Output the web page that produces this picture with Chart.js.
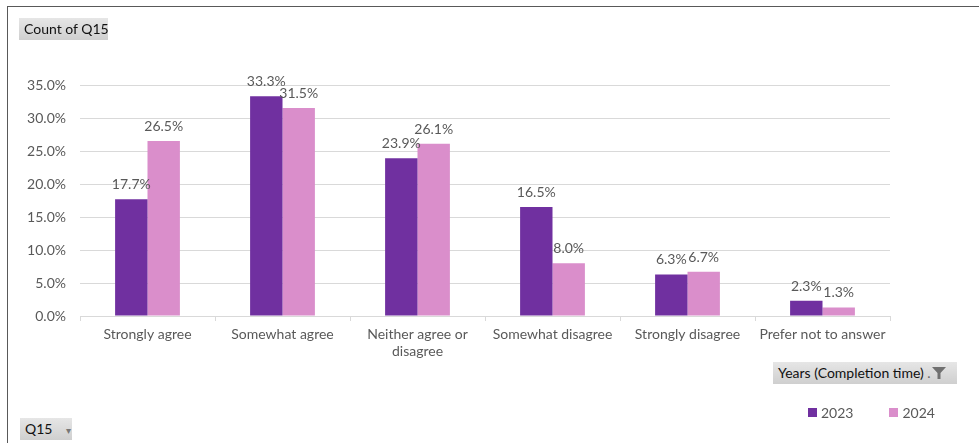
<!DOCTYPE html>
<html>
<head>
<meta charset="utf-8">
<script src="https://cdn.jsdelivr.net/npm/chart.js@4.4.1/dist/chart.umd.min.js"></script>
<style>
  html, body { margin: 0; padding: 0; background: #fff; }
  #wrap { position: relative; width: 979px; height: 443px; overflow: hidden; font-family: Lato, "Open Sans", sans-serif; }
  #frame { position: absolute; left: 7px; top: 6px; right: -2px; bottom: -2px; border-left: 1.5px solid #595959; border-top: 1.5px solid #595959; }
  #c { position: absolute; left: 0; top: 0; }
  .btn { position: absolute; height: 22px; line-height: 22px; font-size: 14px; color: #111;
         background: linear-gradient(#e6e6e6, #cfcfcf); padding: 0 5px; box-sizing: border-box; white-space: nowrap; }
  .btn .dd { color: #777; font-size: 10px; margin-left: 14px; }
  #legend { position: absolute; left: 808px; top: 404px; display: flex; font-size: 14px; color: #595959; }
  #legend .item { display: flex; align-items: center; margin-right: 36px; }
  #legend .sw { width: 9px; height: 9px; margin-right: 4px; }
</style>
</head>
<body>
<div id="wrap">
  <div id="frame"></div>
  <canvas id="c" width="979" height="443"></canvas>
  <div class="btn" style="left:19px; top:18px; width:89px;">Count of Q15</div>
  <div class="btn" style="left:773px; top:362px; width:184px;">Years (Completion time) <span style="color:#666">.</span><svg width="16" height="14" viewBox="0 0 16 14" style="vertical-align:-2px"><path d="M1 1 H15 L9.5 7 V13 H6.5 V7 Z" fill="#707070"/></svg></div>
  <div class="btn" style="left:20px; top:418px; width:52px;">Q15<span class="dd">▾</span></div>
  <div id="legend"></div>
</div>
<script>
// Survey responses to Q15, share of answers by completion year
const categories = [
  ["Strongly agree"],
  ["Somewhat agree"],
  ["Neither agree or", "disagree"],
  ["Somewhat disagree"],
  ["Strongly disagree"],
  ["Prefer not to answer"]
];
const years = ["2023", "2024"];
const share2023 = [17.7, 33.3, 23.9, 16.5, 6.3, 2.3];
const share2024 = [26.5, 31.5, 26.1, 8.0, 6.7, 1.3];
const yTicks = [0, 5, 10, 15, 20, 25, 30, 35];

const colors = ["#7030A0", "#DA8ECB"];
const textColor = "#595959";
const fontFamily = "Lato, 'Open Sans', sans-serif";

// Percentage label centred above each bar
const barLabels = {
  id: "barLabels",
  afterDatasetsDraw(chart) {
    const ctx = chart.ctx;
    ctx.save();
    ctx.font = "14px " + fontFamily;
    ctx.fillStyle = textColor;
    ctx.textAlign = "center";
    ctx.textBaseline = "alphabetic";
    chart.data.datasets.forEach((ds, di) => {
      chart.getDatasetMeta(di).data.forEach((bar, i) => {
        ctx.fillText(ds.data[i].toFixed(1) + "%", bar.x, bar.y - 10);
      });
    });
    ctx.restore();
  }
};

const chart = new Chart(document.getElementById("c"), {
  type: "bar",
  data: {
    labels: categories,
    datasets: [
      { label: years[0], data: share2023, backgroundColor: colors[0] },
      { label: years[1], data: share2024, backgroundColor: colors[1] }
    ]
  },
  options: {
    responsive: false,
    animation: false,
    events: [],
    layout: { padding: { left: 0, right: 89, top: 85, bottom: 0 } },
    datasets: { bar: { categoryPercentage: 0.48, barPercentage: 1.0 } },
    plugins: { legend: { display: false }, tooltip: { enabled: false } },
    scales: {
      x: {
        grid: { drawOnChartArea: false, drawTicks: true, tickLength: 5, color: "#D9D9D9", offset: true },
        border: { color: "#D9D9D9" },
        ticks: { color: textColor, font: { family: fontFamily, size: 14 }, padding: 5, maxRotation: 0, autoSkip: false },
        afterFit(scale) { scale.height = 127; }
      },
      y: {
        min: 0, max: 35,
        afterBuildTicks(scale) { scale.ticks = yTicks.map(v => ({ value: v })); },
        grid: { color: "#D9D9D9", drawTicks: false },
        border: { display: false },
        ticks: { color: textColor, font: { family: fontFamily, size: 14 }, padding: 14,
                 callback: v => v.toFixed(1) + "%" },
        afterFit(scale) { scale.width = 80; }
      }
    }
  },
  plugins: [barLabels]
});

// Legend built from the chart's datasets
const legend = document.getElementById("legend");
chart.data.datasets.forEach(ds => {
  const item = document.createElement("div");
  item.className = "item";
  const sw = document.createElement("span");
  sw.className = "sw";
  sw.style.background = ds.backgroundColor;
  const label = document.createElement("span");
  label.textContent = ds.label;
  item.appendChild(sw);
  item.appendChild(label);
  legend.appendChild(item);
});
</script>
</body>
</html>
